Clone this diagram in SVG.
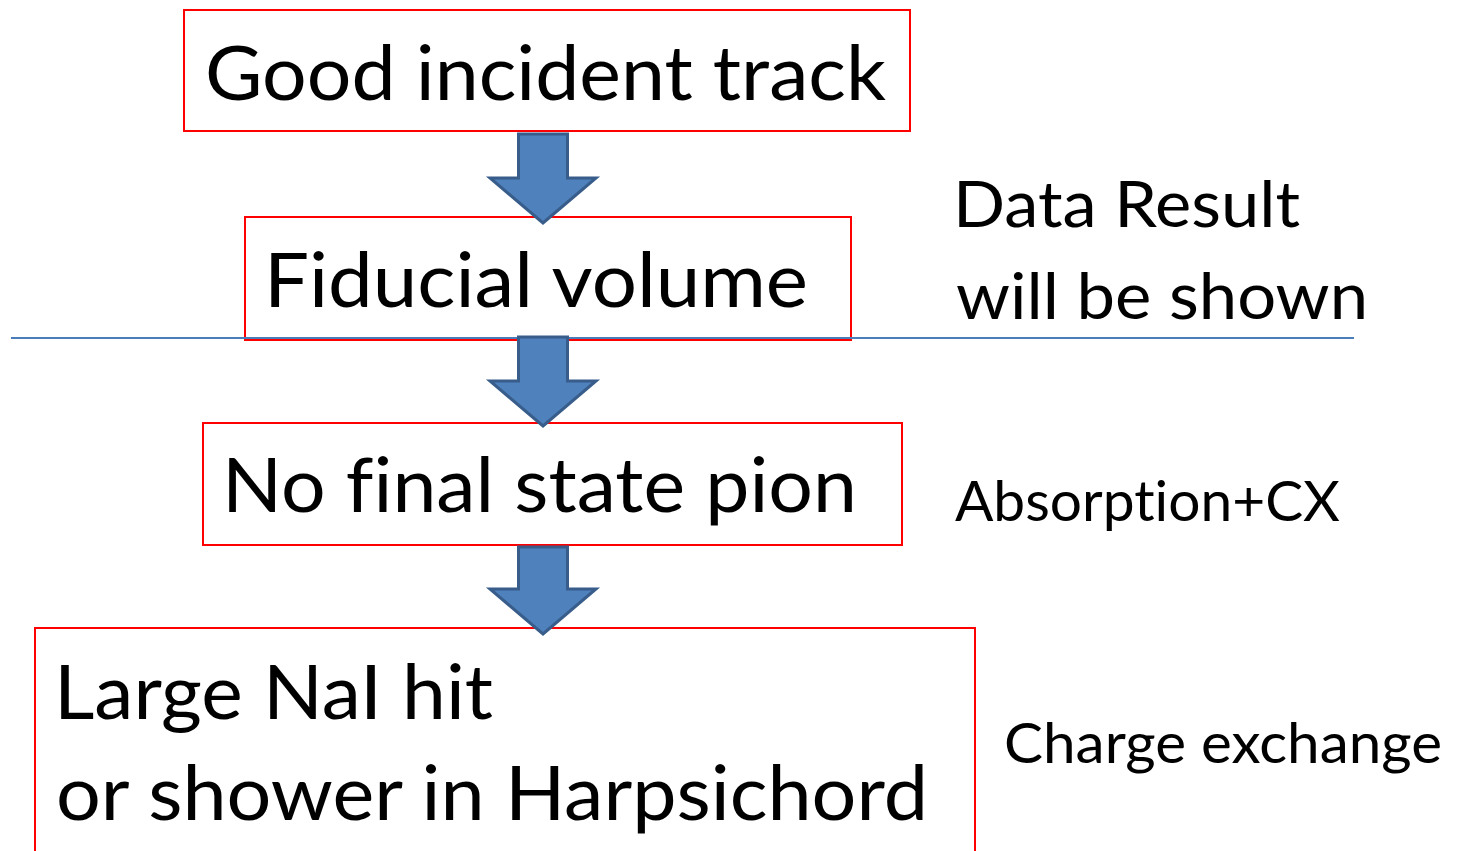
<svg xmlns="http://www.w3.org/2000/svg" width="1458" height="851" viewBox="0 0 1458 851">
  <style>
    .box { fill: none; stroke: #ff0000; stroke-width: 2; }
    .t { font-family: Lato, "Open Sans", "Liberation Sans", sans-serif; fill: #000000; font-variant-ligatures: none; }
    .big { font-size: 75px; }
    .mid { font-size: 63px; }
    .small { font-size: 56px; }
    .arrow { fill: #4f81bd; stroke: #385d8a; stroke-width: 3; stroke-linejoin: miter; }
    .divider { stroke: #4a7ebb; stroke-width: 2; fill: none; }
  </style>
  <rect width="1458" height="851" fill="#ffffff"/>

  <g id="node-good-incident-track">
    <rect class="box" x="184" y="10" width="726" height="121"/>
    <text class="t big" x="205" y="100" textLength="681" lengthAdjust="spacingAndGlyphs">Good incident track</text>
  </g>

  <g id="node-fiducial-volume">
    <rect class="box" x="245" y="217" width="606" height="123"/>
    <text class="t big" x="264" y="307" textLength="544" lengthAdjust="spacingAndGlyphs">Fiducial volume</text>
  </g>

  <g id="divider">
    <line class="divider" x1="11" y1="338" x2="1354" y2="338"/>
  </g>

  <g id="node-no-final-state-pion">
    <rect class="box" x="203" y="423" width="699" height="122"/>
    <text class="t big" x="222" y="512" textLength="635" lengthAdjust="spacingAndGlyphs">No final state pion</text>
  </g>

  <g id="node-large-nai-hit">
    <rect class="box" x="35" y="628" width="940" height="260"/>
    <text class="t big" x="54" y="719" textLength="439" lengthAdjust="spacingAndGlyphs">Large NaI hit</text>
    <text class="t big" x="56" y="820" textLength="872" lengthAdjust="spacingAndGlyphs">or shower in Harpsichord</text>
  </g>

  <g id="label-data-result">
    <text class="t mid" x="953" y="227" textLength="347" lengthAdjust="spacingAndGlyphs">Data Result</text>
    <text class="t mid" x="956" y="319" textLength="412" lengthAdjust="spacingAndGlyphs">will be shown</text>
  </g>

  <g id="label-absorption-cx">
    <text class="t small" x="955" y="521" textLength="385" lengthAdjust="spacingAndGlyphs">Absorption+CX</text>
  </g>

  <g id="label-charge-exchange">
    <text class="t small" x="1004" y="763" textLength="438" lengthAdjust="spacingAndGlyphs">Charge exchange</text>
  </g>

  <g id="connectors">
    <path class="arrow" d="M518.5,134 L567.5,134 L567.5,178 L596,178 L543,223 L490,178 L518.5,178 Z"/>
    <path class="arrow" d="M518.5,337 L567.5,337 L567.5,381 L596,381 L543,426 L490,381 L518.5,381 Z"/>
    <path class="arrow" d="M518.5,547 L567.5,547 L567.5,589 L596,589 L543,634 L490,589 L518.5,589 Z"/>
  </g>
</svg>
